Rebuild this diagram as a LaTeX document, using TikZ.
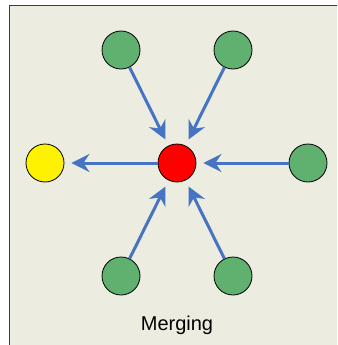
\documentclass[tikz,border=0pt]{standalone}
\usepackage{fontspec}
\setmainfont{Liberation Sans}
\usetikzlibrary{arrows.meta}
\definecolor{bgcol}{RGB}{236,236,224}
\definecolor{framecol}{RGB}{60,60,60}
\definecolor{greencol}{RGB}{96,176,112}
\definecolor{arrowcol}{RGB}{70,116,194}
\begin{document}
\begin{tikzpicture}[x=1pt,y=-1pt,
        dot/.style={circle,draw=black,line width=0.8pt,minimum size=38pt,inner sep=0pt},
        arr/.style={draw=arrowcol,line width=3pt,-{Stealth[length=18pt,width=18pt,inset=6pt]},shorten >=7pt}]
        \useasboundingbox (0,0) rectangle (337,345);
        \clip (0,0) rectangle (337,345);
        \draw[fill=bgcol,draw=framecol,line width=1pt] (9.5,6) rectangle (350,360);
        \node[dot,fill=red] (merge) at (177,163) {};
        \node[dot,fill=yellow] (out) at (45,163) {};
        \node[dot,fill=greencol] (inA) at (121,50) {};
        \node[dot,fill=greencol] (inB) at (233,50) {};
        \node[dot,fill=greencol] (inC) at (308,163) {};
        \node[dot,fill=greencol] (inD) at (121,276) {};
        \node[dot,fill=greencol] (inE) at (233,276) {};
        \draw[arr] (inA) -- (merge);
        \draw[arr] (inB) -- (merge);
        \draw[arr] (inC) -- (merge);
        \draw[arr] (inD) -- (merge);
        \draw[arr] (inE) -- (merge);
        \draw[arr] (merge) -- (out);
        \node[font=\fontsize{20}{24}\selectfont] (label) at (177,325) {Merging};
    \end{tikzpicture}
\end{document}
